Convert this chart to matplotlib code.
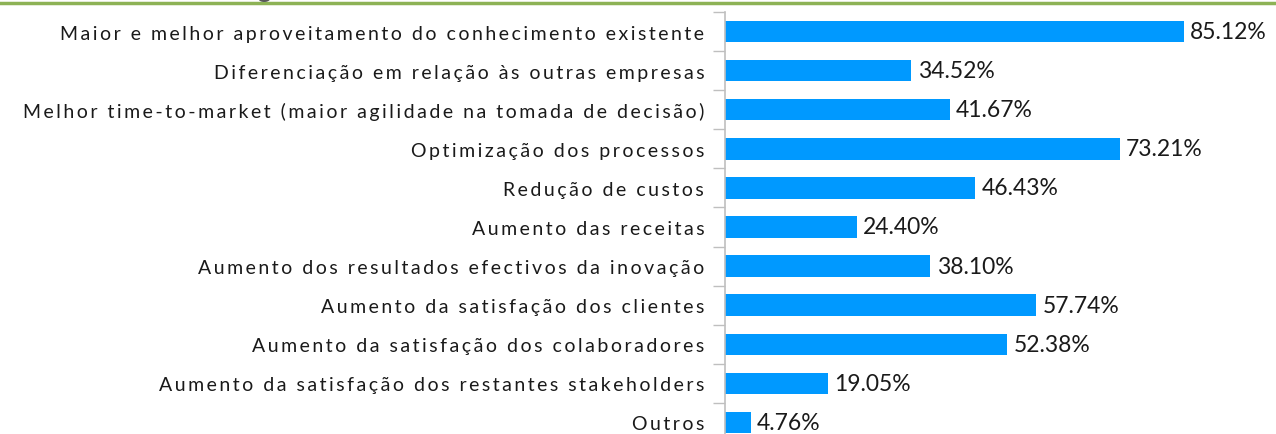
import matplotlib.pyplot as plt
import numpy as np

# categorias e valores (%)
categories = [
    "Maior e melhor aproveitamento do conhecimento existente",
    "Diferenciação em relação às outras empresas",
    "Melhor time-to-market (maior agilidade na tomada de decisão)",
    "Optimização dos processos",
    "Redução de custos",
    "Aumento das receitas",
    "Aumento dos resultados efectivos da inovação",
    "Aumento da satisfação dos clientes",
    "Aumento da satisfação dos colaboradores",
    "Aumento da satisfação dos restantes stakeholders",
    "Outros",
]
values = [85.12, 34.52, 41.67, 73.21, 46.43, 24.40, 38.10, 57.74, 52.38, 19.05, 4.76]
value_labels = ["85.12%", "34.52%", "41.67%", "73.21%", "46.43%", "24.40%",
                "38.10%", "57.74%", "52.38%", "19.05%", "4.76%"]

W, H = 1276, 435
plt.rcParams['font.family'] = ['Lato', 'DejaVu Sans']

# the labels in the original are letter-spaced: put a thin space between letters
def spaced(s):
    return "\u2009".join(s)

fig = plt.figure(figsize=(W / 100, H / 100), dpi=100)

# axes placed in pixel coords (bottom runs a little past the picture)
ax_left, ax_top, ax_bottom = 725, 13, 443
ax = fig.add_axes([ax_left / W, 1 - ax_bottom / H, (W - ax_left) / W, (ax_bottom - ax_top) / H])

px_per_pct = 5.39
ax.set_xlim(0, (W - ax_left) / px_per_pct)

y = np.arange(len(categories))
ax.barh(y, values, height=0.55, color="#0099FF")
ax.set_ylim(len(categories) - 0.5, -0.5)

for yi, v, lab in zip(y, values, value_labels):
    ax.text(v + 1.2, yi, lab, va="center", ha="left", fontsize=16.5, color="#1a1a1a")

ax.set_yticks(y)
ax.set_yticklabels([spaced(c) for c in categories], fontsize=14, color="#1a1a1a")
ax.set_yticks(np.arange(-0.5, len(categories) + 0.5, 1), minor=True)
ax.tick_params(axis="y", which="major", length=0, pad=15)
ax.tick_params(axis="y", which="minor", length=9, width=1, color="#BFBFBF")
ax.set_xticks([])

for s in ["top", "right", "bottom"]:
    ax.spines[s].set_visible(False)
ax.spines["left"].set_color("#BFBFBF")
ax.spines["left"].set_linewidth(1.2)

# green rule across the top
fig.add_artist(plt.Line2D([0, 1], [1 - 4 / H, 1 - 4 / H], color="#8DB255", linewidth=2.5))

# title cut off above the picture: only the tail of a "g" peeks out
fig.text(264 / W, 1 + 2 / H, "g", ha="center", va="baseline", fontsize=18,
         fontweight="bold", color="#595959")

fig.savefig("out.png", dpi=100)
